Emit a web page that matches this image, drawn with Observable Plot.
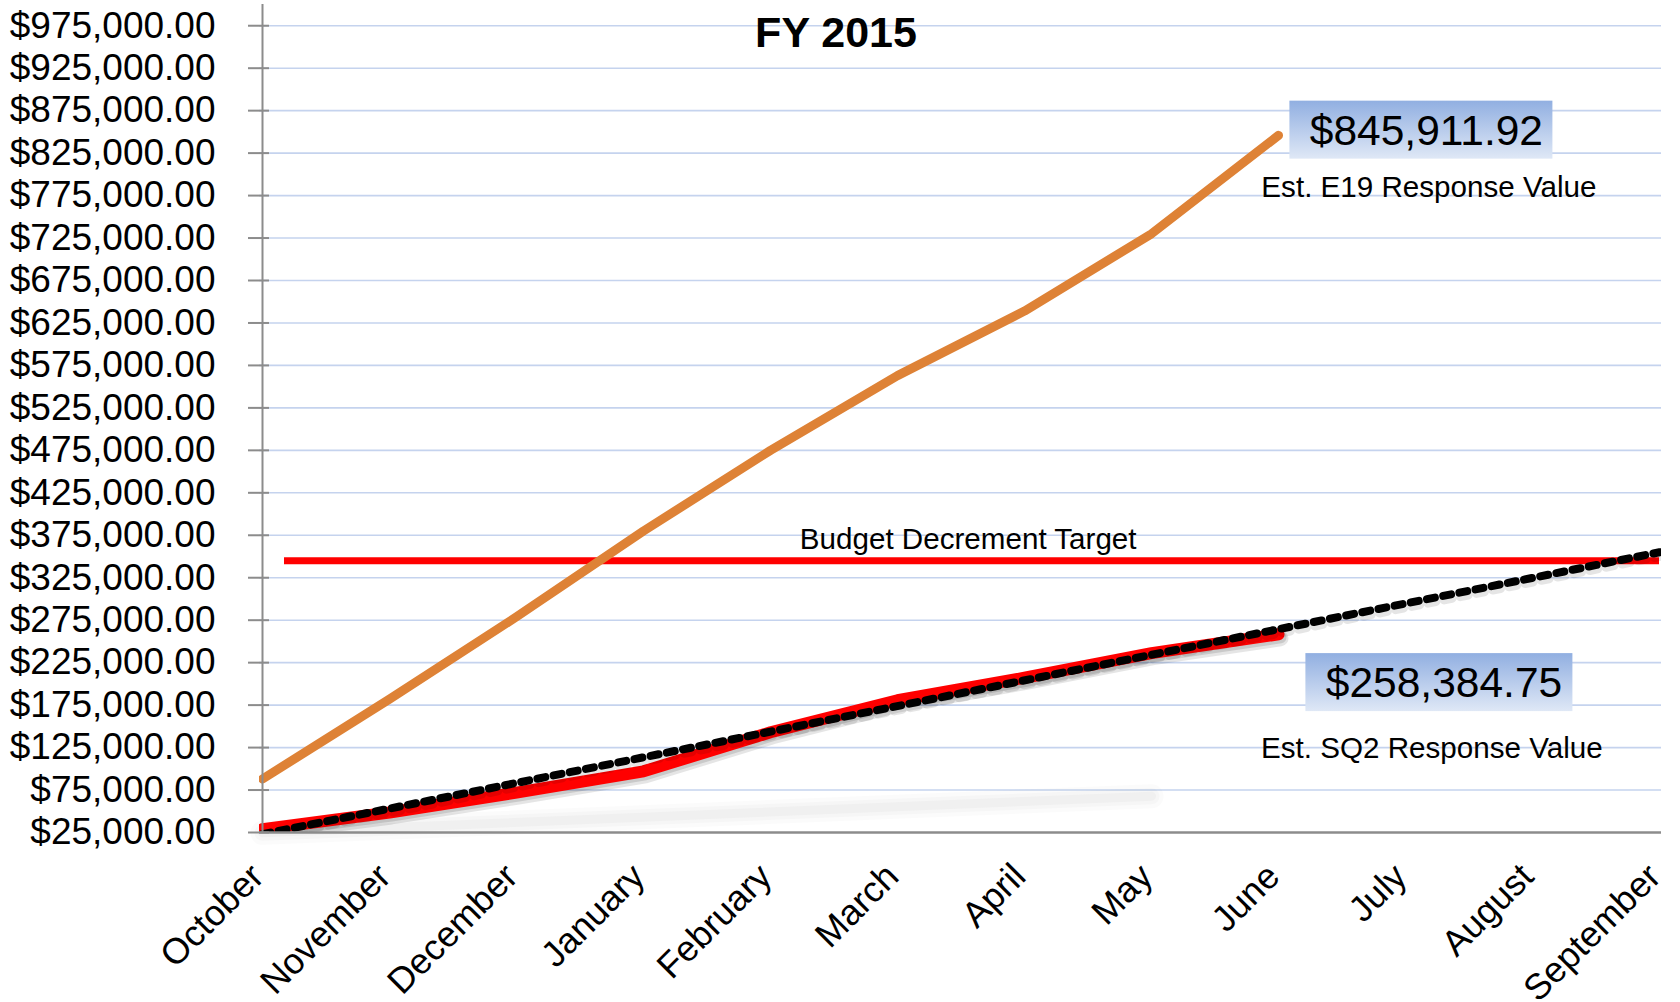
<!DOCTYPE html>
<html>
<head>
<meta charset="utf-8">
<script src="https://cdn.jsdelivr.net/npm/d3@7"></script>
<script src="https://cdn.jsdelivr.net/npm/@observablehq/plot@0.6"></script>
<style>
  html, body { margin: 0; padding: 0; background: #fff; }
  svg { display: block; }
</style>
</head>
<body>
<div id="chart"></div>
<script>
// ---------- data ----------
const title = "FY 2015";
const months = ["October", "November", "December", "January", "February", "March",
                "April", "May", "June", "July", "August", "September"];
const actualMonths = ["October", "November", "December", "January", "February", "March",
                      "April", "May", "June"];
const e19Values = [88000, 182000, 279000, 380000, 475000, 563000, 639000, 730000, 845911.92];
const sq2Values = [29000, 48600, 72000, 97000, 143000, 180700, 207200, 236200, 258384.75];
const trendMonths = ["October", "September"];
const trendValues = [23000, 355000];
const ghostMonths = ["October", "May"];
const ghostValues = [27000, 70000];
const budgetTarget = 345000;
const budgetLabel = "Budget Decrement Target";
const e19Label = "Est. E19 Response Value";
const sq2Label = "Est. SQ2 Response Value";
const yTicks = [25000, 75000, 125000, 175000, 225000, 275000, 325000, 375000, 425000,
                475000, 525000, 575000, 625000, 675000, 725000, 775000, 825000, 875000,
                925000, 975000];
const yDomain = [25000, 1000000];

// ---------- tables ----------
const e19 = actualMonths.map((m, i) => ({month: m, value: e19Values[i]}));
const sq2 = actualMonths.map((m, i) => ({month: m, value: sq2Values[i]}));
const trend = trendMonths.map((m, i) => ({month: m, value: trendValues[i]}));
const ghost = ghostMonths.map((m, i) => ({month: m, value: ghostValues[i]}));
const lastE19 = e19[e19.length - 1];
const lastSq2 = sq2[sq2.length - 1];

const fmt = d3.format("$,.2f");
const FONT = "'Liberation Sans', Arial, Helvetica, sans-serif";
const line = (data, o) => Plot.line(data, {x: "month", y: "value", ...o});
const DOTS = "8,8.5";

const chart = Plot.plot({
  width: 1680,
  height: 1002,
  marginLeft: 259,
  marginRight: 19,
  marginTop: 4,
  marginBottom: 170,
  style: {fontFamily: FONT, background: "#fff", color: "#000", overflow: "visible"},
  x: {type: "point", domain: months, padding: 0, label: null},
  y: {domain: yDomain, label: null},
  marks: [
    Plot.ruleY(yTicks.slice(1), {stroke: "#c5d3ee", strokeWidth: 1.6}),
    // soft ghost shadow near the bottom
    line(ghost, {stroke: "#808080", strokeWidth: 24, strokeOpacity: 0.03, dy: 2, strokeLinecap: "round"}),
    line(ghost, {stroke: "#808080", strokeWidth: 16, strokeOpacity: 0.04, dy: 2, strokeLinecap: "round"}),
    line(ghost, {stroke: "#808080", strokeWidth: 9, strokeOpacity: 0.05, dy: 2, strokeLinecap: "round"}),
    Plot.ruleY([budgetTarget], {stroke: "#ff0000", strokeWidth: 7, insetLeft: 25, insetRight: 2}),
    line(e19, {stroke: "#de8236", strokeWidth: 9, strokeLinecap: "round", strokeLinejoin: "round", clip: true}),
    // drop shadow of SQ2
    line(sq2, {stroke: "#000", strokeOpacity: 0.10, strokeWidth: 16, dx: 2, dy: 4,
      strokeLinecap: "round", strokeLinejoin: "round", clip: true}),
    line(sq2, {stroke: "#000", strokeOpacity: 0.12, strokeWidth: 12, dx: 2, dy: 3,
      strokeLinecap: "round", strokeLinejoin: "round", clip: true}),
    line(sq2, {stroke: "#ff0000", strokeWidth: 12, strokeLinecap: "round", strokeLinejoin: "round", clip: true}),
    // dotted trend + its shadow
    line(trend, {stroke: "#000", strokeOpacity: 0.10, strokeWidth: 9, dx: 1, dy: 4,
      strokeDasharray: DOTS, clip: true}),
    line(trend, {stroke: "#000", strokeWidth: 8, strokeDasharray: DOTS, clip: true}),
    Plot.ruleX([months[0]], {stroke: "#8c8c8c", strokeWidth: 2}),
    Plot.ruleY([yDomain[0]], {stroke: "#8c8c8c", strokeWidth: 2.5}),
    Plot.axisY(yTicks, {tickFormat: fmt, fontSize: 37, tickSize: 21, dx: 10, tickPadding: 33,
      stroke: "#8c8c8c", strokeWidth: 2, fill: "#000", label: null}),
    Plot.axisX(months, {tickRotate: -45, fontSize: 36, tickSize: 0, tickPadding: 38, dx: -5,
      fill: "#000", label: null}),
    Plot.text([title], {text: d => d, frameAnchor: "top", dx: -124.5, dy: 42,
      lineAnchor: "bottom", fontSize: 43, fontWeight: "bold", fill: "#000"}),
    Plot.text([budgetTarget], {x: () => "March", y: d => d, text: () => budgetLabel,
      dx: 70.7, dy: -11.6, lineAnchor: "bottom", fontSize: 29.6, fill: "#000"}),
    Plot.text([lastE19], {x: "month", y: "value", text: () => e19Label,
      dx: 150.4, dy: 61.8, lineAnchor: "bottom", fontSize: 29.6, fill: "#000"}),
    Plot.text([lastSq2], {x: "month", y: "value", text: () => sq2Label,
      dx: 153.4, dy: 123.3, lineAnchor: "bottom", fontSize: 29.6, fill: "#000"})
  ]
});

document.getElementById("chart").appendChild(chart);

// ---------- value call-outs with gradient boxes ----------
const svg = d3.select(chart);
const defs = svg.append("defs");
const grad = defs.append("linearGradient").attr("id", "boxgrad")
  .attr("x1", 0).attr("y1", 0).attr("x2", 0).attr("y2", 1);
grad.append("stop").attr("offset", "0%").attr("stop-color", "#91afe1");
grad.append("stop").attr("offset", "100%").attr("stop-color", "#dfe8f6");

const xs = chart.scale("x"), ys = chart.scale("y");
const callouts = [
  {d: lastE19, left: 11.4, top: -34.2, w: 263, h: 58, tx: 148.4, ty: 9.8},
  {d: lastSq2, left: 27.4, top: 19.3, w: 267, h: 58, tx: 166, ty: 63.3}
];
for (const c of callouts) {
  const px = xs.apply(c.d.month), py = ys.apply(c.d.value);
  const g = svg.append("g");
  g.append("rect").attr("x", px + c.left).attr("y", py + c.top)
    .attr("width", c.w).attr("height", c.h).attr("fill", "url(#boxgrad)");
  g.append("text").attr("x", px + c.tx).attr("y", py + c.ty)
    .attr("text-anchor", "middle").attr("font-family", FONT).attr("font-size", 42.5)
    .attr("fill", "#000").text(fmt(c.d.value));
}
</script>
</body>
</html>
